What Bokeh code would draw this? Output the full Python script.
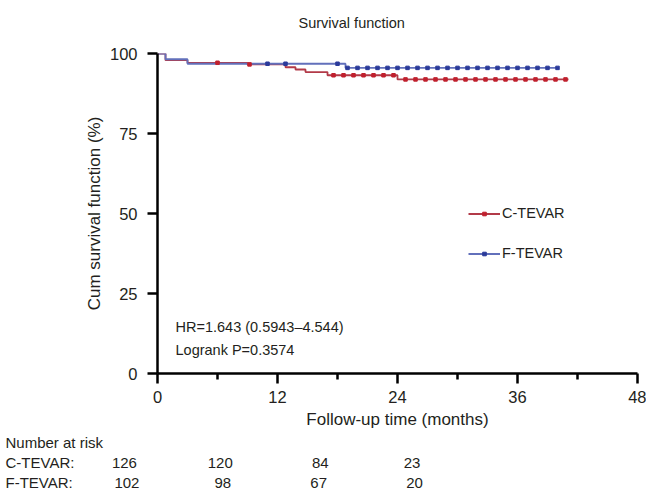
from bokeh.plotting import figure
from bokeh.models import Range1d, FixedTicker, Label, Legend, LegendItem, Title
from bokeh.embed import file_html
from bokeh.resources import INLINE

# ---- data ----
c_times = [0, 0.8, 3, 9, 12.8, 13.8, 14.8, 17, 24]
c_surv = [100, 97.9, 97.1, 96.6, 95.7, 95.0, 94.2, 93.2, 91.9]
c_end = 41.1
c_censor = [6, 9.2, 17.6, 18.6, 19.6, 20.6, 21.6, 22.6, 23.6, 24.8, 25.8, 26.8, 27.8,
            28.8, 29.8, 30.8, 31.8, 32.8, 33.8, 34.8, 35.8, 36.8, 37.8, 38.8, 39.8, 40.8]

f_times = [0, 0.8, 3, 18.8]
f_surv = [100, 98.2, 96.8, 95.5]
f_end = 40.1
f_censor = [11, 12.8, 18, 19, 20, 21, 22, 23, 24, 25, 26, 27, 28, 29, 30, 31, 32,
            33, 34, 35, 36, 37, 38, 39, 40]

risk_times = [0, 12, 24, 36]
risk_c = [126, 120, 84, 23]
risk_f = [102, 98, 67, 20]
groups = ["C-TEVAR", "F-TEVAR"]

x_ticks = [0, 12, 24, 36, 48]
x_minor = [6, 18, 30, 42]
y_ticks = [0, 25, 50, 75, 100]

FONT = "Liberation Sans"
TXT = "#231f20"
RED_LINE = "#b23a48"
RED_MARK = "#c0202e"
BLUE_LINE = "#6270bb"
BLUE_MARK = "#2b3b9a"
NBSP = "\u00a0"

# layout constants (pixels)
W, H = 646, 500
FR_L, FR_R, FR_T, FR_B = 157, 637, 53, 373


def surv_at(times, surv, t):
    s = surv[0]
    for ti, si in zip(times, surv):
        if t >= ti:
            s = si
    return s


p = figure(width=W, height=H, x_range=Range1d(0, 48), y_range=Range1d(0, 100),
           output_backend="svg", toolbar_location=None,
           min_border_left=FR_L, min_border_right=W - FR_R, min_border_top=FR_T,
           min_border_bottom=H - FR_B)
p.outline_line_color = None
p.grid.visible = False

# title: built from a spacer row (nearest the frame) and the text row above it
try:
    p.title = None
except Exception:
    p.title.text = ""
    p.title.visible = False
p.add_layout(Title(text=NBSP, standoff=0, text_font=FONT, text_font_size="14.5px",
                   text_font_style="normal"), "above")
p.add_layout(Title(text="Survival function", align="left", offset=141, standoff=9,
                   text_font=FONT, text_font_size="14.5px", text_font_style="normal",
                   text_color=TXT), "above")

# curves
rl = p.step(c_times + [c_end], c_surv + [c_surv[-1]], mode="after",
            line_color=RED_LINE, line_width=1.8)
bl = p.step(f_times + [f_end], f_surv + [f_surv[-1]], mode="after",
            line_color=BLUE_LINE, line_width=1.8)
rm = p.scatter(c_censor, [surv_at(c_times, c_surv, t) for t in c_censor], marker="square",
               size=3.5, fill_color=RED_MARK, line_color=RED_MARK)
bm = p.scatter(f_censor, [surv_at(f_times, f_surv, t) for t in f_censor], marker="square",
               size=3.5, fill_color=BLUE_MARK, line_color=BLUE_MARK)

# axes
xa = p.xaxis[0]
xa.ticker = FixedTicker(ticks=x_ticks, minor_ticks=x_minor)
ya = p.yaxis[0]
ya.ticker = FixedTicker(ticks=y_ticks)
for ax in (xa, ya):
    ax.axis_line_width = 2.5
    ax.axis_line_color = "black"
    ax.major_tick_line_width = 2.5
    ax.major_tick_line_color = "black"
    ax.major_tick_out = 10
    ax.major_tick_in = 0
    ax.minor_tick_line_width = 2.5
    ax.minor_tick_line_color = "black"
    ax.minor_tick_out = 6
    ax.minor_tick_in = 0
    ax.major_label_text_font = FONT
    ax.major_label_text_font_size = "16.5px"
    ax.major_label_text_color = TXT
    ax.axis_label_text_font = FONT
    ax.axis_label_text_font_size = "17px"
    ax.axis_label_text_font_style = "normal"
    ax.axis_label_text_color = TXT
ya.minor_tick_out = 0
xa.axis_label = "Follow-up time (months)"
ya.axis_label = "Cum survival function (%)"
xa.major_label_standoff = 7
xa.axis_label_standoff = 4
ya.major_label_standoff = 10
ya.axis_label_standoff = 3

# annotation
p.add_layout(Label(x=1.8, y=14.4, text="HR=1.643 (0.5943\u20134.544)", text_font=FONT,
                   text_font_size="14.5px", text_color=TXT, text_baseline="middle"))
p.add_layout(Label(x=1.8, y=7.2, text="Logrank P=0.3574", text_font=FONT,
                   text_font_size="14.5px", text_color=TXT, text_baseline="middle"))

legend = Legend(items=[LegendItem(label=groups[0], renderers=[rl, rm]),
                       LegendItem(label=groups[1], renderers=[bl, bm])],
                location=(311, 110), orientation="vertical")
legend.padding = 0
legend.margin = 0
legend.spacing = 20
legend.glyph_width = 32
legend.glyph_height = 9
legend.label_height = 20
legend.label_standoff = 2
legend.label_text_font = FONT
legend.label_text_font_size = "14.5px"
legend.label_text_color = TXT
legend.background_fill_alpha = 0
legend.border_line_color = None
p.add_layout(legend)

# ---- number at risk table: one text row per line below the x axis ----
TBL_PX = 15.0
EM = {"C": .722, "F": .611, "T": .611, "E": .667, "V": .667, "A": .667, "R": .722,
      "-": .333, ":": .278, NBSP: .278}


def text_w(s):
    return sum(EM.get(ch, .556) for ch in s) * TBL_PX


ROW_X0 = 5  # left edge of the row names


def row_text(name, vals):
    s = name
    cur = ROW_X0 + text_w(s)
    for t, v in zip(risk_times, vals):
        right = 138 + 7.9 * t
        num = str(v)
        n = max(1, round((right - text_w(num) - cur) / text_w(NBSP)))
        s += NBSP * n + num
        cur += n * text_w(NBSP) + text_w(num)
    return s


rows = ["Number at risk", row_text(groups[0] + ":", risk_c), row_text(groups[1] + ":", risk_f)]
for r in rows:
    p.add_layout(Title(text=r, align="left", offset=ROW_X0 - FR_L, standoff=0.5,
                       text_font=FONT, text_font_size="15px", text_font_style="normal",
                       text_color=TXT), "below")

open("out.html", "w").write(file_html(p, INLINE))
